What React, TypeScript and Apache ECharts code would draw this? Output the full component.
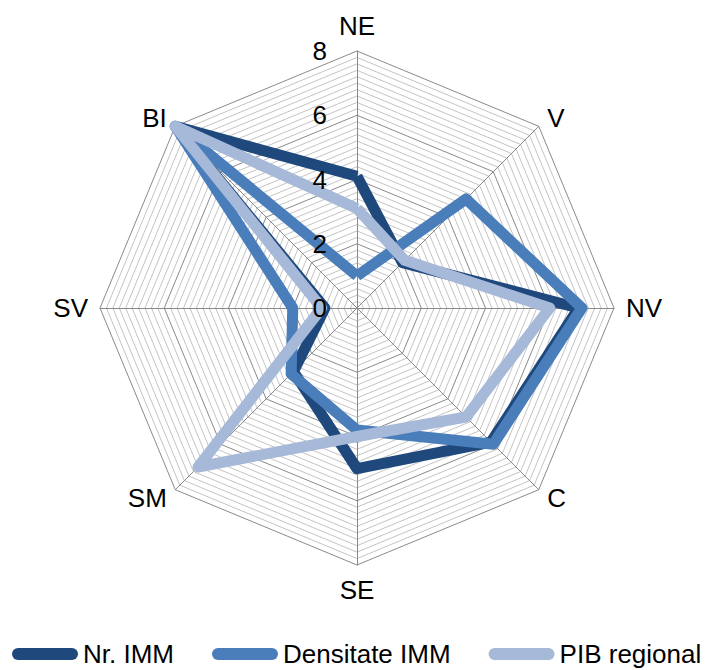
import React, { useEffect, useRef } from 'react';
import * as echarts from 'echarts';

// Categories in reading order, clockwise from the top
const categories = ['NE', 'V', 'NV', 'C', 'SE', 'SM', 'SV', 'BI'];
const seriesNames = ['Nr. IMM', 'Densitate IMM', 'PIB regional'];
const nrImm = [4.1, 2.0, 6.9, 5.9, 5.0, 2.8, 1.0, 8.0];
const densitateImm = [1.0, 4.8, 7.0, 6.0, 3.8, 2.9, 2.0, 8.0];
const pibRegional = [3.1, 2.1, 6.0, 4.8, 4.0, 7.0, 1.1, 8.0];
const axisMin = 0;
const axisMax = 8;
const labelStep = 2;
const gridStep = 0.2;

const colors = ['#1F497D', '#4A7EBB', '#A7B9D9'];
const FONT = "'Liberation Sans', Arial, sans-serif";

export default function App() {
  const ref = useRef<HTMLDivElement>(null);

  useEffect(() => {
    if (!ref.current) return;
    const chart = echarts.init(ref.current, undefined, { renderer: 'svg' });

    // ECharts radar lays indicators counter-clockwise; reorder to get clockwise reading
    const order = categories.map((_, i) => (i === 0 ? 0 : categories.length - i));
    const reorder = (arr: number[]) => order.map((k) => arr[k]);

    const splitNumber = Math.round((axisMax - axisMin) / gridStep);
    const majorEvery = Math.round(labelStep / gridStep);
    const splitColors: string[] = [];
    for (let i = 0; i <= splitNumber; i++) {
      splitColors.push(i % majorEvery === 0 ? '#8a8a8a' : '#c4c4c4');
    }

    const allSeries = [nrImm, densitateImm, pibRegional];
    const center = [357, 308];
    const radius = 257;

    const labelFormatter = (v: number) => {
      const q = v / labelStep;
      return Math.abs(q - Math.round(q)) < 1e-6 ? String(Math.round(v)) : '';
    };

    chart.setOption({
      animation: false,
      backgroundColor: '#ffffff',
      legend: {
        data: seriesNames,
        left: 12,
        top: 641,
        padding: 0,
        itemGap: 38,
        itemWidth: 66,
        itemHeight: 12,
        icon: 'path://M6 0H60A6 6 0 0 1 60 12H6A6 6 0 0 1 6 0Z',
        textStyle: { color: '#000', fontSize: 26, lineHeight: 26, fontFamily: FONT },
      },
      radar: [
        {
          center,
          radius,
          startAngle: 90,
          shape: 'polygon',
          splitNumber,
          nameGap: 12,
          z: 0,
          indicator: order.map((k) => ({ name: categories[k], min: axisMin, max: axisMax })),
          axisName: { color: '#000', fontSize: 26, fontFamily: FONT },
          axisLine: { lineStyle: { color: '#8a8a8a', width: 1 } },
          splitLine: { lineStyle: { color: splitColors, width: 1 } },
          splitArea: { show: false },
          axisTick: { show: false },
          axisLabel: { show: false },
        },
        {
          // overlay radar that only carries the value labels, drawn above the series
          center,
          radius,
          startAngle: 90,
          shape: 'polygon',
          splitNumber,
          z: 10,
          indicator: order.map((k, i) => {
            const ind: any = { name: categories[k], min: axisMin, max: axisMax };
            if (i === 0) ind.axisLabel = { show: true };
            return ind;
          }),
          axisName: { show: false },
          axisLine: { show: false },
          splitLine: { show: false },
          splitArea: { show: false },
          axisTick: { show: false },
          axisLabel: {
            show: false,
            margin: 30,
            fontSize: 26,
            color: '#000',
            fontFamily: FONT,
            showMinLabel: true,
            showMaxLabel: true,
            formatter: labelFormatter,
          },
        },
      ],
      series: allSeries.map((arr, i) => ({
        type: 'radar',
        radarIndex: 0,
        name: seriesNames[i],
        symbol: 'none',
        lineStyle: { width: 11, color: colors[i], join: 'round' },
        itemStyle: { color: colors[i] },
        data: [{ value: reorder(arr), name: seriesNames[i] }],
      })),
    });

    return () => chart.dispose();
  }, []);

  return (
    <div
      ref={ref}
      style={{ position: 'fixed', left: 0, top: 0, width: 709, height: 670 }}
    />
  );
}
